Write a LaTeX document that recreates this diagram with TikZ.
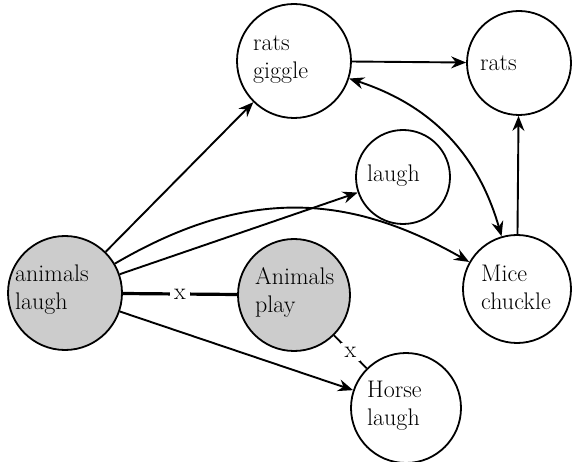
\documentclass[tikz,border=0pt]{standalone}
\usetikzlibrary{arrows.meta}
\begin{document}
\begin{tikzpicture}[x=1pt,y=1pt,
  state/.style={circle, draw, line width=1.8pt, inner sep=0pt},
  greyfill/.style={fill=black!20},
  txt/.style={anchor=west, align=left, inner sep=0pt, font=\fontsize{24}{28}\selectfont},
  arr/.style={line width=1.9pt, -{Stealth[length=15pt,width=12pt,inset=5pt]}},
  dbl/.style={line width=1.9pt, {Stealth[length=15pt,width=12pt,inset=5pt]}-{Stealth[length=15pt,width=12pt,inset=5pt]}},
  plain/.style={line width=3.2pt},
  lbl/.style={fill=white, inner sep=4pt, font=\fontsize{24}{28}\selectfont}]
\useasboundingbox (0,0) rectangle (573,461);
% circles
\node[state,greyfill,minimum size=114pt] (al) at (65,168) {};
\node[state,greyfill,minimum size=112pt] (ap) at (294,166) {};
\node[state,minimum size=114pt] (rg) at (294,400) {};
\node[state,minimum size=104pt] (r) at (519,398) {};
\node[state,minimum size=94pt] (l) at (403,284) {};
\node[state,minimum size=108pt] (mc) at (517,172) {};
\node[state,minimum size=110pt] (hl) at (406,53) {};
% texts
\node[txt] (alt) at (15,171) {animals\\laugh};
\node[txt] (apt) at (255,169) {Animals\\play};
\node[txt] (rgt) at (253,401) {rats\\giggle};
\node[txt] (rt) at (480,398) {rats};
\node[txt] (lt) at (367,285) {laugh};
\node[txt] (mct) at (481,174) {Mice\\chuckle};
\node[txt] (hlt) at (367,55) {Horse\\laugh};
% connectors
\draw[arr] (al) -- (rg);
\draw[arr] (al) -- (l);
\draw[arr] (al) to[bend left=30, looseness=1.05] (mc);
\draw[arr] (al) -- (hl);
\draw[plain] (al) -- node[lbl] {x} (ap);
\draw[line width=1.9pt] (ap) -- node[lbl] {x} (hl);
\draw[arr] (rg) -- (r);
\draw[dbl] (rg) to[bend left=28] (mc);
\draw[arr] (mc) -- (r);
\end{tikzpicture}
\end{document}
